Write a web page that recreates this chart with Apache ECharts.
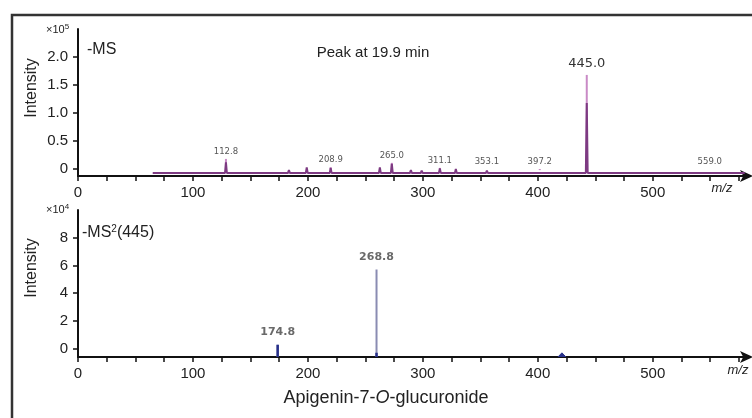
<!DOCTYPE html>
<html><head><meta charset="utf-8">
<script src="https://cdn.jsdelivr.net/npm/echarts@6/dist/echarts.min.js"></script>
<style>html,body{margin:0;padding:0;background:#fff}#c{width:752px;height:418px}</style>
</head><body><div id="c"></div>
<script>
// ---- data (m/z positions as drawn on the axis, intensities in axis units) ----
const topProfileMz  = [65, 87.8, 100, 107.8, 113.9, 128.7, 140.9, 164.3, 183.5, 199, 219.8, 235, 262.6, 273, 289.6, 299, 314.8, 328.7, 340, 355.7, 370, 381.7, 401.7, 442.6, 470, 500, 549.6, 580];
const topProfileInt = [-0.07, -0.04, -0.05, -0.05, -0.05, 0.12, -0.05, -0.05, -0.02, 0.03, 0.02, -0.04, 0.03, 0.09, -0.02, -0.03, 0.01, 0.0, -0.04, -0.03, -0.05, -0.05, -0.05, 1.18, -0.06, -0.06, -0.04, -0.07];
const topBaseline = -0.07;
const topPeakMz    = [128.7, 219.8, 273, 314.8, 355.7, 401.7, 442.6, 549.6];
const topPeakInt   = [0.18, 0.03, 0.11, 0.02, 0.0, -0.02, 1.68, 0.0];
const topPeakLabel = ['112.8', '208.9', '265.0', '311.1', '353.1', '397.2', '445.0', '559.0'];

const botPeakMz    = [173.7, 259.7];
const botPeakInt   = [0.29, 5.71];
const botPeakLabel = ['174.8', '268.8'];
const botBaseline  = -0.6;
const botDarkMz  = [173.7, 259.7];
const botDarkInt = [0.29, -0.3];
const botBumpMz  = [421];
const botBumpInt = [-0.3];

const xTickValues   = [0,25,50,75,100,125,150,175,200,225,250,275,300,325,350,375,400,425,450,475,500,525,550,575];
const xLabelValues  = [0,100,200,300,400,500];
const topYTicks = [0, 0.5, 1.0, 1.5, 2.0];
const botYTicks = [0, 2, 4, 6, 8];

// ---- build helpers ----
function profile(mz, h, base, w) {
  const out = [];
  for (let i = 0; i < mz.length; i++) {
    if (Math.abs(h[i] - base) < 1e-9) { out.push([mz[i], base]); continue; }
    out.push([mz[i] - w, base]); out.push([mz[i], h[i]]); out.push([mz[i] + w, base]);
  }
  return out;
}
function sticks(mz, h, base) {
  const out = [];
  for (let i = 0; i < mz.length; i++) { out.push([mz[i], base]); out.push([mz[i], h[i]]); out.push([mz[i], base]); if (i < mz.length - 1) out.push('-'); }
  return out;
}
const zip = (a, b) => a.map((v, i) => [v, b[i]]);

const FONT = 'Liberation Sans';
function xAxisCfg(gi) {
  return {
    gridIndex: gi, type: 'value', min: 0, max: 582,
    axisLine: { show: true, onZero: false, lineStyle: { color: '#111', width: 2 }, symbol: ['none', 'arrow'], symbolSize: [9, 13], symbolOffset: [0, 6] },
    axisTick: { show: true, inside: false, length: 5, lineStyle: { color: '#111', width: 1.5 }, customValues: xTickValues },
    axisLabel: { customValues: xLabelValues, fontFamily: FONT, fontSize: 15, color: '#222', margin: 9 },
    splitLine: { show: false }
  };
}
function yAxisCfg(gi, min, max, ticks, fmt) {
  return {
    gridIndex: gi, type: 'value', min: min, max: max,
    axisLine: { show: true, lineStyle: { color: '#111', width: 2 } },
    axisTick: { show: true, length: 5, lineStyle: { color: '#111', width: 1.5 }, customValues: ticks },
    axisLabel: { customValues: ticks, formatter: fmt, fontFamily: FONT, fontSize: 15, color: '#222', margin: 10 },
    splitLine: { show: false }
  };
}

const chart = echarts.init(document.getElementById('c'));
chart.setOption({
  animation: false,
  grid: [
    { left: 78, right: 5, top: 29, height: 147 },
    { left: 78, right: 5, top: 210, height: 147 }
  ],
  xAxis: [xAxisCfg(0), xAxisCfg(1)],
  yAxis: [
    yAxisCfg(0, -0.125, 2.5, topYTicks, v => v === 0 ? '0' : v.toFixed(1)),
    yAxisCfg(1, -0.6, 10, botYTicks, v => String(v))
  ],
  series: [
    { type: 'line', xAxisIndex: 0, yAxisIndex: 0, data: profile(topProfileMz, topProfileInt, topBaseline, 0.8),
      symbol: 'none', lineStyle: { color: '#7d3a82', width: 2 }, z: 3 },
    { type: 'bar', xAxisIndex: 0, yAxisIndex: 0, data: zip(topPeakMz, topPeakInt), barWidth: 2,
      itemStyle: { color: '#c98ac6' }, z: 2,
      label: { show: true, position: 'top', distance: 3, color: '#555', fontFamily: 'DejaVu Sans', fontSize: 8.5,
        formatter: p => p.dataIndex === 6 ? '{big|' + topPeakLabel[p.dataIndex] + '}' : topPeakLabel[p.dataIndex],
        rich: { big: { fontSize: 13, color: '#333', fontFamily: 'DejaVu Sans', padding: [0, 0, 2, 0] } } } },
    { type: 'line', xAxisIndex: 1, yAxisIndex: 1, data: sticks(botPeakMz, botPeakInt, botBaseline), symbol: 'none',
      connectNulls: false, lineStyle: { color: '#8a8cb2', width: 2 }, z: 2 },
    { type: 'line', xAxisIndex: 1, yAxisIndex: 1, data: sticks(botDarkMz, botDarkInt, botBaseline), symbol: 'none',
      connectNulls: false, lineStyle: { color: '#27308a', width: 2.5 }, z: 3 },
    { type: 'line', xAxisIndex: 1, yAxisIndex: 1, data: profile(botBumpMz, botBumpInt, botBaseline, 3.5), symbol: 'none',
      lineStyle: { color: '#27308a', width: 1 }, areaStyle: { color: '#27308a', origin: 'start', opacity: 1 }, z: 3 },
    { type: 'scatter', xAxisIndex: 1, yAxisIndex: 1, data: zip(botPeakMz, botPeakInt), symbolSize: 0,
      label: { show: true, position: 'top', distance: 7, color: '#444', fontFamily: 'DejaVu Sans', fontWeight: 'bold', fontSize: 11,
        formatter: p => botPeakLabel[p.dataIndex] } }
  ],
  graphic: [
    { type: 'rect', shape: { x: 12, y: 15, width: 760, height: 430 }, style: { fill: 'none', stroke: '#333', lineWidth: 2.5 }, silent: true },
    { type: 'text', left: 46, top: 23, style: { text: '×10{s|5}', fontFamily: FONT, fontSize: 11, fill: '#222', rich: { s: { fontSize: 8, verticalAlign: 'top', padding: [0, 0, 6, 0] } } } },
    { type: 'text', left: 46, top: 203, style: { text: '×10{s|4}', fontFamily: FONT, fontSize: 11, fill: '#222', rich: { s: { fontSize: 8, verticalAlign: 'top', padding: [0, 0, 6, 0] } } } },
    { type: 'text', x: 32, y: 88, rotation: Math.PI / 2, style: { text: 'Intensity', fontFamily: FONT, fontSize: 16, fill: '#222', align: 'center', verticalAlign: 'middle' } },
    { type: 'text', x: 32, y: 268, rotation: Math.PI / 2, style: { text: 'Intensity', fontFamily: FONT, fontSize: 16, fill: '#222', align: 'center', verticalAlign: 'middle' } },
    { type: 'text', x: 87, y: 50, style: { text: '-MS', fontFamily: FONT, fontSize: 16, fill: '#222', verticalAlign: 'middle' } },
    { type: 'text', x: 82, y: 233, style: { text: '-MS{s|2}(445)', fontFamily: FONT, fontSize: 16, fill: '#222', verticalAlign: 'middle', rich: { s: { fontSize: 10, verticalAlign: 'top', padding: [0, 0, 8, 0] } } } },
    { type: 'text', x: 373, y: 53, style: { text: 'Peak at 19.9 min', fontFamily: FONT, fontSize: 15, fill: '#222', align: 'center', verticalAlign: 'middle' } },
    { type: 'text', x: 722, y: 188, style: { text: 'm/z', fontFamily: FONT, fontStyle: 'italic', fontSize: 13, fill: '#222', align: 'center', verticalAlign: 'middle' } },
    { type: 'text', x: 738, y: 370, style: { text: 'm/z', fontFamily: FONT, fontStyle: 'italic', fontSize: 13, fill: '#222', align: 'center', verticalAlign: 'middle' } },
    { type: 'text', x: 386, y: 398, style: { text: 'Apigenin-7-{i|O}-glucuronide', fontFamily: FONT, fontSize: 18, fill: '#222', align: 'center', verticalAlign: 'middle', rich: { i: { fontStyle: 'italic', fontFamily: FONT, fontSize: 18 } } } }
  ]
});
</script></body></html>
